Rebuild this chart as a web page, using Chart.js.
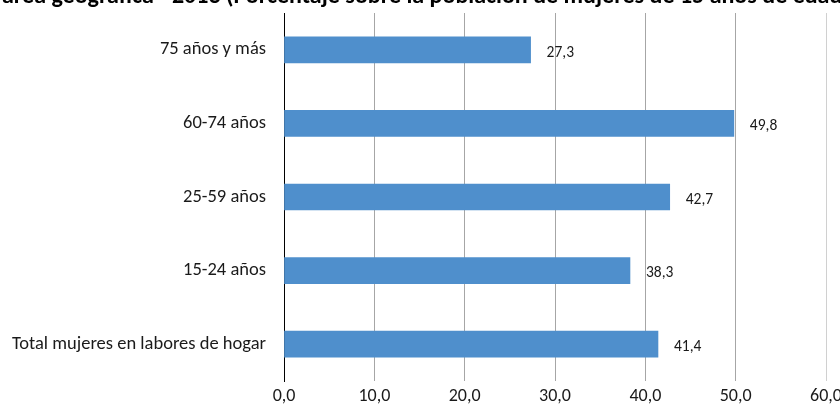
<!DOCTYPE html>
<html>
<head>
<meta charset="utf-8">
<script src="https://cdn.jsdelivr.net/npm/chart.js@4/dist/chart.umd.min.js"></script>
<style>
  html, body { margin: 0; padding: 0; background: #fff; }
  #wrap { width: 840px; height: 408px; }
</style>
</head>
<body>
<div id="wrap"><canvas id="chart"></canvas></div>
<script>
const categories = ['75 años y más', '60-74 años', '25-59 años', '15-24 años', 'Total mujeres en labores de hogar'];
const values = [27.3, 49.8, 42.7, 38.3, 41.4];
const tickValues = [0, 10, 20, 30, 40, 50, 60];
const titleText = 'área geográfica - 2013 (Porcentaje sobre la población de mujeres de 15 años de edad)';

const fontFamily = 'Carlito, Lato, "Open Sans", sans-serif';
const fmt = v => v.toFixed(1).replace('.', ',');

// title is cut off at the top edge, like in the source image
const cutTitle = {
  id: 'cutTitle',
  afterDraw(chart) {
    const ctx = chart.ctx;
    ctx.save();
    ctx.font = 'bold 24px ' + fontFamily;
    ctx.fillStyle = '#000';
    ctx.textAlign = 'left';
    ctx.textBaseline = 'alphabetic';
    ctx.fillText(titleText, 2, 3);
    ctx.restore();
  }
};

const valueLabels = {
  id: 'valueLabels',
  afterDatasetsDraw(chart) {
    const ctx = chart.ctx;
    const meta = chart.getDatasetMeta(0);
    ctx.save();
    ctx.font = '15.5px ' + fontFamily;
    ctx.fillStyle = '#1a1a1a';
    ctx.textAlign = 'left';
    ctx.textBaseline = 'middle';
    meta.data.forEach((bar, i) => {
      ctx.fillText(fmt(values[i]), bar.x + 16, bar.y + 3);
    });
    ctx.restore();
  }
};

new Chart(document.getElementById('chart'), {
  type: 'bar',
  data: {
    labels: categories,
    datasets: [{
      data: values,
      backgroundColor: '#4f8fcc',
      barThickness: 26,
    }],
  },
  options: {
    indexAxis: 'y',
    responsive: true,
    maintainAspectRatio: false,
    animation: false,
    layout: { padding: { top: 13, left: 0, right: 14, bottom: 0 } },
    plugins: {
      legend: { display: false },
      tooltip: { enabled: false },
      title: { display: false },
    },
    scales: {
      x: {
        min: 0,
        max: 60,
        afterBuildTicks: axis => { axis.ticks = tickValues.map(v => ({ value: v })); },
        afterFit: axis => {
          axis.height = 27;
          axis.paddingLeft = 0;
          axis.paddingRight = 0;
        },
        ticks: {
          padding: 5,
          color: '#1a1a1a',
          font: { family: fontFamily, size: 18 },
          callback: v => fmt(v),
          maxRotation: 0,
        },
        grid: {
          drawTicks: false,
          color: ctx => ctx.tick && ctx.tick.value === 60 ? '#d0d0d0' : (ctx.tick && ctx.tick.value === 0 ? 'rgba(0,0,0,0)' : '#a6a6a6'),
          lineWidth: 1,
        },
        border: { display: false },
      },
      y: {
        afterFit: axis => {
          axis.width = 284;
          axis.paddingTop = 0;
          axis.paddingBottom = 0;
        },
        ticks: {
          padding: 18,
          color: '#1a1a1a',
          font: { family: fontFamily, size: 18.5 },
        },
        grid: { display: false, drawTicks: false },
        border: { display: true, color: '#000', width: 1 },
      },
    },
  },
  plugins: [cutTitle, valueLabels],
});
</script>
</body>
</html>
